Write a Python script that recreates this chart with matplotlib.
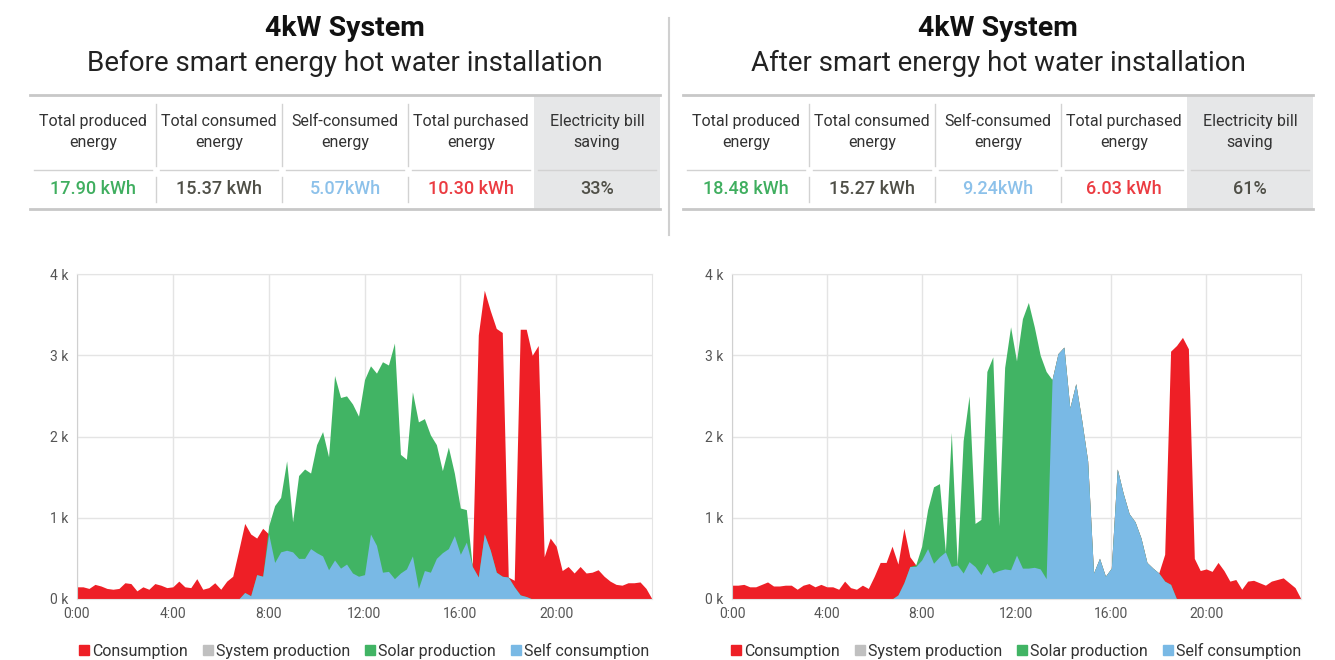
import matplotlib
matplotlib.use('Agg')
import matplotlib.pyplot as plt
from matplotlib.lines import Line2D
from matplotlib.patches import Rectangle
import numpy as np

plt.rcParams['font.family'] = ['Roboto', 'DejaVu Sans']

W, H = 1335, 660

# readings every 15 minutes from 0:00 to 24:00, in kW
hours = np.arange(97) / 4

before_consumption = [
    0.15, 0.15, 0.13, 0.18, 0.16, 0.13, 0.12, 0.13, 0.20, 0.19, 0.10, 0.15, 0.12, 0.19, 0.17, 0.14,
    0.15, 0.22, 0.15, 0.14, 0.25, 0.12, 0.14, 0.20, 0.12, 0.22, 0.28, 0.60, 0.93, 0.80, 0.75, 0.87,
    0.80, 0.45, 0.58, 0.60, 0.58, 0.50, 0.50, 0.62, 0.57, 0.53, 0.36, 0.48, 0.38, 0.43, 0.32, 0.28,
    0.30, 0.80, 0.66, 0.33, 0.34, 0.25, 0.32, 0.37, 0.53, 0.13, 0.35, 0.33, 0.50, 0.57, 0.62, 0.78,
    0.55, 0.70, 0.42, 3.25, 3.80, 3.55, 3.33, 3.28, 0.27, 0.23, 3.32, 3.32, 3.00, 3.12, 0.52, 0.75,
    0.65, 0.35, 0.40, 0.32, 0.40, 0.32, 0.33, 0.36, 0.28, 0.22, 0.18, 0.17, 0.20, 0.20, 0.21, 0.13,
    0.00]
before_solar = [
    0, 0, 0, 0, 0, 0, 0, 0, 0, 0, 0, 0, 0, 0, 0, 0,
    0, 0, 0, 0, 0, 0, 0, 0, 0, 0, 0, 0.00, 0.08, 0.04, 0.30, 0.28,
    0.90, 1.15, 1.25, 1.70, 0.95, 1.52, 1.60, 1.55, 1.90, 2.06, 1.75, 2.75, 2.48, 2.50, 2.40, 2.25,
    2.70, 2.87, 2.78, 2.92, 2.88, 3.15, 1.78, 1.72, 2.55, 2.18, 2.22, 2.02, 1.90, 1.58, 1.87, 1.55,
    1.12, 1.10, 0.40, 0.27, 0.80, 0.60, 0.33, 0.28, 0.27, 0.15, 0.05, 0.03, 0, 0, 0, 0,
    0, 0, 0, 0, 0, 0, 0, 0, 0, 0, 0, 0, 0, 0, 0, 0,
    0]
before_self = [
    0, 0, 0, 0, 0, 0, 0, 0, 0, 0, 0, 0, 0, 0, 0, 0,
    0, 0, 0, 0, 0, 0, 0, 0, 0, 0, 0, 0.00, 0.08, 0.04, 0.30, 0.28,
    0.80, 0.45, 0.58, 0.60, 0.58, 0.50, 0.50, 0.62, 0.57, 0.53, 0.36, 0.48, 0.38, 0.43, 0.32, 0.28,
    0.30, 0.80, 0.66, 0.33, 0.34, 0.25, 0.32, 0.37, 0.53, 0.13, 0.35, 0.33, 0.50, 0.57, 0.62, 0.78,
    0.55, 0.70, 0.40, 0.27, 0.80, 0.60, 0.33, 0.28, 0.27, 0.15, 0.05, 0.03, 0, 0, 0, 0,
    0, 0, 0, 0, 0, 0, 0, 0, 0, 0, 0, 0, 0, 0, 0, 0,
    0]

after_consumption = [
    0.17, 0.17, 0.18, 0.15, 0.15, 0.18, 0.21, 0.16, 0.16, 0.17, 0.17, 0.12, 0.17, 0.19, 0.15, 0.18,
    0.15, 0.15, 0.12, 0.22, 0.14, 0.12, 0.17, 0.13, 0.28, 0.45, 0.45, 0.65, 0.43, 0.87, 0.52, 0.42,
    0.48, 0.62, 0.44, 0.52, 0.58, 0.40, 0.42, 0.32, 0.46, 0.40, 0.30, 0.44, 0.32, 0.35, 0.37, 0.36,
    0.54, 0.38, 0.38, 0.39, 0.37, 0.25, 2.70, 3.02, 3.10, 2.35, 2.65, 2.20, 1.70, 0.32, 0.50, 0.28,
    0.38, 1.60, 1.30, 1.05, 0.95, 0.75, 0.45, 0.38, 0.32, 0.55, 3.05, 3.12, 3.22, 3.08, 0.50, 0.35,
    0.37, 0.34, 0.45, 0.35, 0.22, 0.24, 0.12, 0.22, 0.23, 0.20, 0.17, 0.22, 0.24, 0.26, 0.20, 0.14,
    0.00]
after_solar = [
    0, 0, 0, 0, 0, 0, 0, 0, 0, 0, 0, 0, 0, 0, 0, 0,
    0, 0, 0, 0, 0, 0, 0, 0, 0, 0, 0, 0.00, 0.05, 0.20, 0.40, 0.42,
    0.65, 1.10, 1.38, 1.42, 0.58, 2.05, 0.42, 1.95, 2.50, 0.93, 0.98, 2.80, 2.98, 0.90, 2.85, 3.35,
    2.93, 3.45, 3.65, 3.35, 3.00, 2.80, 2.70, 3.02, 3.10, 2.35, 2.65, 2.20, 1.70, 0.32, 0.50, 0.28,
    0.38, 1.60, 1.30, 1.05, 0.95, 0.75, 0.45, 0.38, 0.32, 0.22, 0.18, 0, 0, 0, 0, 0,
    0, 0, 0, 0, 0, 0, 0, 0, 0, 0, 0, 0, 0, 0, 0, 0,
    0]
after_self = [
    0, 0, 0, 0, 0, 0, 0, 0, 0, 0, 0, 0, 0, 0, 0, 0,
    0, 0, 0, 0, 0, 0, 0, 0, 0, 0, 0, 0.00, 0.05, 0.20, 0.40, 0.40,
    0.48, 0.62, 0.44, 0.52, 0.58, 0.40, 0.42, 0.32, 0.46, 0.40, 0.30, 0.44, 0.32, 0.35, 0.37, 0.36,
    0.54, 0.38, 0.38, 0.39, 0.37, 0.25, 2.70, 3.02, 3.10, 2.35, 2.65, 2.20, 1.70, 0.32, 0.50, 0.28,
    0.38, 1.60, 1.30, 1.05, 0.95, 0.75, 0.45, 0.38, 0.32, 0.22, 0.18, 0, 0, 0, 0, 0,
    0, 0, 0, 0, 0, 0, 0, 0, 0, 0, 0, 0, 0, 0, 0, 0,
    0]

header_labels = ['Total produced\nenergy', 'Total consumed\nenergy', 'Self-consumed\nenergy',
                 'Total purchased\nenergy', 'Electricity bill\nsaving']
before_totals = ['17.90 kWh', '15.37 kWh', '5.07kWh', '10.30 kWh', '33%']
after_totals = ['18.48 kWh', '15.27 kWh', '9.24kWh', '6.03 kWh', '61%']
total_colors = ['#3fae5f', '#4f4f47', '#8cc1ea', '#eb3b41', '#4f4f47']

x_ticks = [0, 4, 8, 12, 16, 20]
x_tick_labels = ['0:00', '4:00', '8:00', '12:00', '16:00', '20:00']
y_ticks = [0, 1, 2, 3, 4]
y_tick_labels = ['0 k', '1 k', '2 k', '3 k', '4 k']

legend_labels = ['Consumption', 'System production', 'Solar production', 'Self consumption']
red, grey, green, blue = '#ee1f26', '#c0c0c0', '#41b464', '#79b9e5'

fig = plt.figure(figsize=(W / 100, H / 100), dpi=100)


def fx(x):
    return x / W


def fy(y):
    return 1 - y / H


def hline(x0, x1, y, color, lw):
    fig.add_artist(Line2D([fx(x0), fx(x1)], [fy(y), fy(y)], transform=fig.transFigure,
                          color=color, lw=lw))


def vline(x, y0, y1, color, lw):
    fig.add_artist(Line2D([fx(x), fx(x)], [fy(y0), fy(y1)], transform=fig.transFigure,
                          color=color, lw=lw))


def draw_header(x0, subtitle, totals):
    col_w = 126
    cx = x0 + 2.5 * col_w
    fig.text(fx(cx), fy(29), '4kW System', ha='center', va='center', fontsize=20.5,
             fontweight='bold', color='#111111')
    fig.text(fx(cx), fy(63), subtitle, ha='center', va='center', fontsize=20, color='#222222')

    # shaded saving column
    fig.add_artist(Rectangle((fx(x0 + 4 * col_w), fy(209)), col_w / W, (209 - 95) / H,
                             transform=fig.transFigure, facecolor='#e6e7e8', lw=0))
    hline(x0, x0 + 5 * col_w, 95, '#c8c8c8', 2)
    hline(x0, x0 + 5 * col_w, 209, '#c8c8c8', 2)
    for i in range(5):
        left = x0 + i * col_w
        hline(left + 4, left + col_w - 4, 170, '#d2d2d2', 1)
        fig.text(fx(left + col_w / 2), fy(132), header_labels[i], ha='center', va='center',
                 fontsize=11.5, color='#333333', linespacing=1.45)
        fig.text(fx(left + col_w / 2), fy(189), totals[i], ha='center', va='center',
                 fontsize=13, color=total_colors[i], fontweight='medium')
        if 0 < i < 4:
            vline(left, 104, 166, '#d2d2d2', 1)
            vline(left, 177, 202, '#d2d2d2', 1)


def draw_chart(ax, consumption, solar, self_use):
    ax.fill_between(hours, consumption, color=red, lw=0)
    ax.fill_between(hours, solar, color=green, lw=0)
    ax.fill_between(hours, self_use, color=blue, lw=0)
    ax.set_xlim(0, 24)
    ax.set_ylim(0, 4)
    ax.set_xticks(x_ticks)
    ax.set_xticklabels(x_tick_labels)
    ax.set_yticks(y_ticks)
    ax.set_yticklabels(y_tick_labels)
    ax.tick_params(length=0, labelsize=10, colors='#555555', pad=6)
    ax.grid(True, color='#e4e4e4', lw=1)
    ax.set_axisbelow(True)
    for s in ax.spines.values():
        s.set_color('#e4e4e4')
    ax.spines['left'].set_color('#d0d0d0')

    handles = [Line2D([], [], marker='s', ls='none', markersize=6.5, color=c)
               for c in (red, grey, green, blue)]
    ax.legend(handles, legend_labels, loc='upper center', bbox_to_anchor=(0.5, -0.09),
              ncol=4, frameon=False, fontsize=11.5, handlelength=0.5, handletextpad=0.25,
              columnspacing=1.0, labelcolor='#333333')


draw_header(30, 'Before smart energy hot water installation', before_totals)
draw_header(683, 'After smart energy hot water installation', after_totals)
vline(669, 18, 235, '#d0d0d0', 1.5)

ax1 = fig.add_axes([fx(77), 61 / H, 575 / W, 325 / H])
ax2 = fig.add_axes([fx(732), 61 / H, 569 / W, 325 / H])
draw_chart(ax1, before_consumption, before_solar, before_self)
draw_chart(ax2, after_consumption, after_solar, after_self)

fig.savefig('out.png', dpi=100)
